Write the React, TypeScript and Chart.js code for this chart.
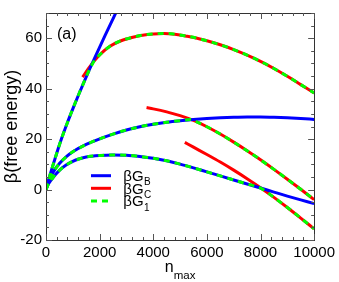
import React, { useEffect, useRef } from "react";
import { Chart, registerables } from "chart.js";

Chart.register(...registerables);

// ---- data (n_max, beta*G) ----
const topBlueN = [0, 100, 200, 400, 600, 800, 1000, 1200, 1400, 1600, 1800, 2200, 2700];
const topBlueV = [0, 4.0, 7.6, 14.4, 20.8, 26.6, 32.0, 37.2, 42.2, 47.1, 51.8, 61.0, 72.2];
const topRedN = [1365, 1600, 1800, 2000, 2400, 2800, 3200, 3600, 4000, 4400, 4800, 5200, 5600, 6000, 6500, 7000, 7500, 8000, 8500, 9000, 9500, 10000];
const topRedV = [44.6, 48.2, 51.0, 53.4, 56.9, 59.0, 60.3, 61.2, 61.7, 61.9, 61.6, 60.9, 60.1, 59.0, 57.4, 55.5, 53.3, 50.8, 48.0, 44.9, 41.6, 38.3];
const topG1N = [0, 100, 200, 400, 600, 800, 1000, 1200, 1400, 1600, 1720, 1800, 2000, 2400, 2800, 3200, 3600, 4000, 4400, 4800, 5200, 5600, 6000, 6500, 7000, 7500, 8000, 8500, 9000, 9500, 10000];
const topG1V = [0, 4.0, 7.6, 14.4, 20.8, 26.6, 32.0, 37.2, 42.2, 47.1, 49.6, 51.0, 53.4, 56.9, 59.0, 60.3, 61.2, 61.7, 61.9, 61.6, 60.9, 60.1, 59.0, 57.4, 55.5, 53.3, 50.8, 48.0, 44.9, 41.6, 38.3];

const midBlueN = [0, 100, 250, 500, 750, 1000, 1500, 2000, 2500, 3000, 3500, 4000, 4500, 5000, 5500, 6000, 6500, 7000, 7500, 8000, 8500, 9000, 9500, 10000];
const midBlueV = [0, 3.2, 6.6, 10.3, 13.0, 15.0, 17.9, 20.1, 22.0, 23.6, 24.9, 25.9, 26.7, 27.3, 27.8, 28.2, 28.5, 28.7, 28.8, 28.8, 28.7, 28.5, 28.2, 27.8];
const midRedN = [3750, 4000, 4500, 5000, 5500, 6000, 6500, 7000, 7500, 8000, 8500, 9000, 9500, 10000];
const midRedV = [32.5, 32.0, 30.8, 29.3, 27.4, 24.9, 22.0, 18.8, 15.4, 11.8, 8.0, 4.1, 0.1, -4.0];
const midG1N = [0, 100, 250, 500, 750, 1000, 1500, 2000, 2500, 3000, 3500, 4000, 4500, 5000, 5400, 5500, 6000, 6500, 7000, 7500, 8000, 8500, 9000, 9500, 10000];
const midG1V = [0, 3.2, 6.6, 10.3, 13.0, 15.0, 17.9, 20.1, 22.0, 23.6, 24.9, 25.9, 26.7, 27.3, 27.75, 27.4, 24.9, 22.0, 18.8, 15.4, 11.8, 8.0, 4.1, 0.1, -4.0];

const lowBlueN = [0, 100, 250, 500, 750, 1000, 1250, 1500, 2000, 2500, 3000, 3500, 4000, 4500, 5000, 5500, 6000, 6500, 7000, 7500, 8000, 8500, 9000, 9500, 10000];
const lowBlueV = [0, 2.4, 4.6, 7.6, 9.7, 11.2, 12.2, 12.9, 13.5, 13.7, 13.6, 13.1, 12.4, 11.4, 10.1, 8.6, 7.0, 5.4, 3.8, 2.2, 0.6, -1.0, -2.6, -4.1, -5.6];
const lowRedN = [5177, 5500, 6000, 6500, 7000, 7500, 8000, 8500, 9000, 9500, 10000];
const lowRedV = [18.7, 16.8, 13.9, 10.9, 7.7, 4.3, 0.7, -3.1, -7.1, -11.3, -15.6];
const lowG1N = [0, 100, 250, 500, 750, 1000, 1250, 1500, 2000, 2500, 3000, 3500, 4000, 4500, 5000, 5500, 6000, 6500, 7000, 7500, 8000, 8500, 9000, 9500, 10000];
const lowG1V = [0, 2.4, 4.6, 7.6, 9.7, 11.2, 12.2, 12.9, 13.5, 13.7, 13.6, 13.1, 12.4, 11.4, 10.1, 8.6, 7.0, 5.4, 3.8, 2.2, 0.6, -3.1, -7.1, -11.3, -15.6];

const xTicks = [0, 2000, 4000, 6000, 8000, 10000];
const yTicks = [-20, 0, 20, 40, 60];
const legendSubs = ["B", "C", "1"];

const FONT = "'Liberation Sans', Arial, Helvetica, sans-serif";
const BLUE = "#0000ff";
const RED = "#ff0000";
const GREEN = "#00ff00";

function pts(n: number[], v: number[]) {
  return n.map((x, i) => ({ x, y: v[i] }));
}

export default function App() {
  const ref = useRef<HTMLCanvasElement>(null);

  useEffect(() => {
    document.body.style.margin = "0";
    const canvas = ref.current!;
    const mk = (data: any, color: string, dashed: boolean, order: number) => ({
      data,
      borderColor: color,
      backgroundColor: color,
      borderWidth: 3,
      borderDash: dashed ? [6, 5] : [],
      borderCapStyle: "butt",
      pointRadius: 0,
      fill: false,
      cubicInterpolationMode: "monotone",
      order,
      clip: 0,
    });

    const decor = {
      id: "decor",
      afterDraw(chart: any) {
        const c = chart.ctx;
        const a = chart.chartArea;
        const xs = chart.scales.x;
        const ys = chart.scales.y;
        c.save();
        // frame
        c.strokeStyle = "#333";
        c.lineWidth = 1;
        c.strokeRect(Math.round(a.left) + 0.5, Math.round(a.top) + 0.5, Math.round(a.right - a.left), Math.round(a.bottom - a.top));
        // x ticks (major every 2000, minor every 400)
        c.strokeStyle = "#555";
        for (let v = 0; v <= 10000; v += 400) {
          const major = v % 2000 === 0;
          const len = major ? 6 : 3;
          const px = Math.round(xs.getPixelForValue(v)) + 0.5;
          c.beginPath();
          c.moveTo(px, a.bottom);
          c.lineTo(px, a.bottom - len);
          c.moveTo(px, a.top);
          c.lineTo(px, a.top + len);
          c.stroke();
        }
        // y ticks (major every 20, minor every 5)
        for (let v = -20; v <= 70; v += 5) {
          const major = v % 20 === 0;
          const len = major ? 6 : 3;
          const py = Math.round(ys.getPixelForValue(v)) + 0.5;
          c.beginPath();
          c.moveTo(a.left, py);
          c.lineTo(a.left + len, py);
          c.moveTo(a.right, py);
          c.lineTo(a.right - len, py);
          c.stroke();
        }
        // panel label
        c.fillStyle = "#000";
        c.textBaseline = "alphabetic";
        c.textAlign = "left";
        c.font = `16px ${FONT}`;
        c.fillText("(a)", a.left + 11, a.top + 26);
        // x title n_max
        const cx = (a.left + a.right) / 2;
        c.font = `16px ${FONT}`;
        const wn = c.measureText("n").width;
        c.font = `11.5px ${FONT}`;
        const wm = c.measureText("max").width;
        const x0 = cx - (wn + wm) / 2;
        c.font = `16px ${FONT}`;
        c.fillText("n", x0, 271.7);
        c.font = `11.5px ${FONT}`;
        c.fillText("max", x0 + wn, 279.3);
        // legend
        const colors = [BLUE, RED, GREEN];
        const rowY = [175.7, 188.3, 201];
        for (let i = 0; i < 3; i++) {
          c.strokeStyle = colors[i];
          c.lineWidth = 3;
          c.setLineDash(i === 2 ? [6, 5] : []);
          c.beginPath();
          c.moveTo(91, rowY[i]);
          c.lineTo(111, rowY[i]);
          c.stroke();
          c.setLineDash([]);
          c.fillStyle = "#000";
          c.font = `15px ${FONT}`;
          c.fillText("βG", 123.3, rowY[i] + 5.2);
          const w = c.measureText("βG").width;
          c.font = `10px ${FONT}`;
          c.fillText(legendSubs[i], 123.3 + w + 0.5, rowY[i] + 9.5);
        }
        c.restore();
      },
    };

    const chart = new Chart(canvas, {
      type: "line",
      data: {
        datasets: [
          mk(pts(topG1N, topG1V), GREEN, true, 0),
          mk(pts(midG1N, midG1V), GREEN, true, 0),
          mk(pts(lowG1N, lowG1V), GREEN, true, 0),
          mk(pts(topBlueN, topBlueV), BLUE, false, 1),
          mk(pts(midBlueN, midBlueV), BLUE, false, 1),
          mk(pts(lowBlueN, lowBlueV), BLUE, false, 1),
          mk(pts(topRedN, topRedV), RED, false, 2),
          mk(pts(midRedN, midRedV), RED, false, 2),
          mk(pts(lowRedN, lowRedV), RED, false, 2),
        ] as any,
      },
      options: {
        animation: false,
        responsive: false,
        devicePixelRatio: 1,
        layout: { padding: { top: 2, right: 22, left: 0, bottom: 0 } },
        plugins: { legend: { display: false }, tooltip: { enabled: false } },
        scales: {
          x: {
            type: "linear",
            min: 0,
            max: 10000,
            afterFit: (s: any) => {
              s.height = 42;
            },
            afterBuildTicks: (s: any) => {
              s.ticks = xTicks.map((v) => ({ value: v }));
            },
            ticks: {
              font: { family: FONT, size: 15 },
              color: "#000",
              padding: 4,
              maxRotation: 0,
              autoSkip: false,
              callback: (v: any) => String(v),
            },
            grid: { display: false, drawTicks: false },
            border: { display: false },
          },
          y: {
            type: "linear",
            min: -20,
            max: 70,
            afterFit: (s: any) => {
              s.width = 46;
            },
            afterBuildTicks: (s: any) => {
              s.ticks = yTicks.map((v) => ({ value: v }));
            },
            ticks: {
              font: { family: FONT, size: 15 },
              color: "#000",
              padding: 4,
              autoSkip: false,
              callback: (v: any) => String(v),
            },
            title: {
              display: true,
              text: "β(free energy)",
              font: { family: FONT, size: 18 },
              color: "#000",
              padding: { top: 1, bottom: 0 },
            },
            grid: { display: false, drawTicks: false },
            border: { display: false },
          },
        },
      },
      plugins: [decor],
    } as any);

    return () => chart.destroy();
  }, []);

  return (
    <div style={{ width: 339, height: 282, position: "relative" }}>
      <canvas ref={ref} width={339} height={282} style={{ display: "block" }} />
    </div>
  );
}
